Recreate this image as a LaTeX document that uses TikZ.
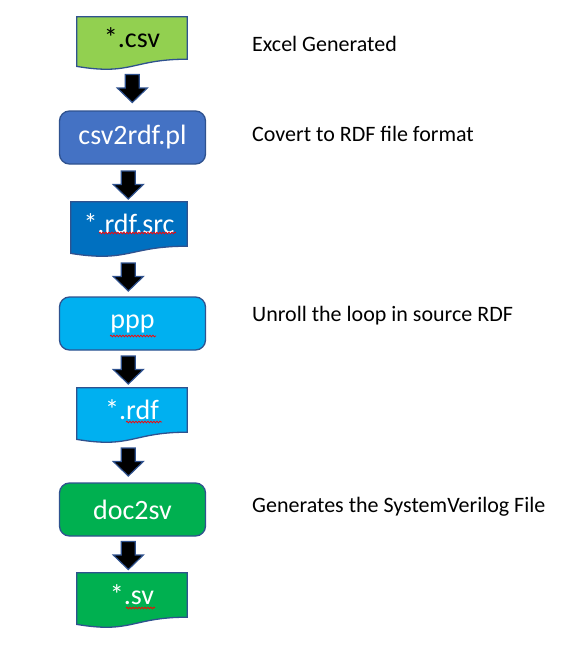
\documentclass[tikz,border=0pt]{standalone}
\usepackage{fontspec}
\setmainfont{Carlito}
\usetikzlibrary{calc,backgrounds,decorations.pathmorphing}
\definecolor{edge}{HTML}{2F528F}
\definecolor{csvgreen}{HTML}{92D050}
\definecolor{blueA}{HTML}{4472C4}
\definecolor{blueB}{HTML}{0070C0}
\definecolor{cyanC}{HTML}{00B0F0}
\definecolor{greenD}{HTML}{00B050}
\begin{document}
\begin{tikzpicture}[x=1pt,y=-1pt,
  boxtext/.style={font=\fontsize{28}{33}\selectfont, text=white},
  procbox/.style={boxtext, rectangle, rounded corners=10pt, draw=edge, line width=1.3pt,
    minimum width=146pt, minimum height=53pt, inner sep=0pt},
  docnode/.style={boxtext, rectangle, minimum width=110pt, minimum height=44pt, inner sep=0pt},
  docline/.style={draw=edge, line width=1.3pt},
  arrowbody/.style={fill=black, draw=edge, line width=1.2pt, line join=miter},
  blockarrow/.pic={\path[arrowbody] (-7,0) -- (7,0) -- (7,13.5) -- (15,13.5) -- (0,28)
      -- (-15,13.5) -- (-7,13.5) -- cycle;},
  note/.style={font=\fontsize{22}{26}\selectfont, anchor=base west, inner sep=0pt},
  squig/.style={draw=red, line width=0.7pt, decorate,
    decoration={snake, amplitude=0.9pt, segment length=3pt}}
]
\useasboundingbox (0,0) rectangle (577,646);

% document-shaped nodes
\node[docnode, text=black, minimum height=42pt] (d1) at (132,38) {*.csv};
\node[docnode, minimum width=116pt] (d2) at (129,224) {*.rdf.src};
\node[docnode] (d3) at (132,410) {*.rdf};
\node[docnode] (d4) at (132,595) {*.sv};

% process boxes
\node[procbox, fill=blueA] (b1) at (132.5,137.5) {csv2rdf.pl};
\node[procbox, fill=cyanC] (b2) at (132.5,323.5) {ppp};
\node[procbox, fill=greenD] (b3) at (132.5,509.5) {doc2sv};

% document outlines behind text
\begin{scope}[on background layer]
\foreach \d/\c in {d1/csvgreen, d2/blueB, d3/cyanC, d4/greenD}{
  \path[docline, fill=\c] (\d.north west) -- (\d.north east) -- (\d.south east)
    .. controls (\d.south) and ($(\d.south)+(0,16.5)$) .. ($(\d.south west)+(0,7.2)$) -- cycle;
}
\end{scope}

% block arrows
\pic (a1) at (132.3,74.5) {blockarrow};
\pic (a2) at (128.3,171) {blockarrow};
\pic (a3) at (128.3,263) {blockarrow};
\pic (a4) at (128.3,356) {blockarrow};
\pic (a5) at (128.3,448) {blockarrow};
\pic (a6) at (128.3,541.5) {blockarrow};

% spell-check squiggles
\draw[squig] (99,233) -- (176,233);
\draw[squig] (110,336) -- (156,336);
\draw[squig] (126,422) -- (162,422);
\draw[squig] (126,608) -- (155,608);

% notes
\node[note] (n1) at (252,51) {Excel Generated};
\node[note] (n2) at (252,141) {Covert to RDF file format};
\node[note] (n3) at (252,321) {Unroll the loop in source RDF};
\node[note] (n4) at (252,512) {Generates the SystemVerilog File};
\end{tikzpicture}
\end{document}
